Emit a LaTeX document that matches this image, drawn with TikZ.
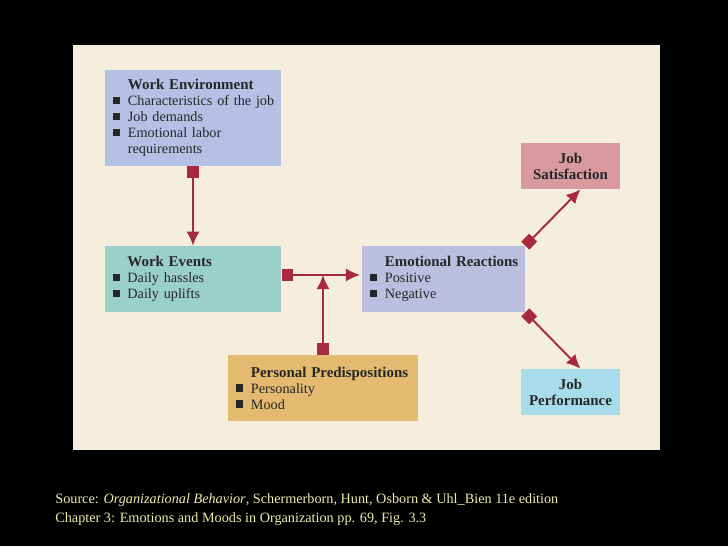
\documentclass[tikz,border=0pt]{standalone}
\usepackage{fontspec}
\setmainfont{Liberation Serif}
\usetikzlibrary{positioning,calc}
\usetikzlibrary{arrows.meta}
\definecolor{sfondo}{RGB}{245,238,220}
\definecolor{ambiente}{RGB}{180,192,228}
\definecolor{eventi}{RGB}{154,207,202}
\definecolor{reazioni}{RGB}{188,190,224}
\definecolor{predisposizioni}{RGB}{227,186,112}
\definecolor{soddisfazione}{RGB}{216,154,158}
\definecolor{prestazione}{RGB}{168,220,234}
\definecolor{rossoscuro}{RGB}{168,42,62}
\definecolor{didascalia}{RGB}{236,236,170}
\newcommand{\voce}[1]{\mbox{\makebox[8.5pt][l]{\rule[0.2ex]{4.2pt}{4.2pt}}#1}}
\newcommand{\titolo}[1]{\mbox{\hspace*{8.5pt}\fontsize{8.5}{9.1}\selectfont\bfseries #1}}
\newcommand{\rientro}[1]{\mbox{\hspace*{8.5pt}#1}}
\tikzstyle{fattore} = [rectangle, inner xsep=4.5pt, inner ysep=2pt, align=left, font=\fontsize{8.1}{9.1}\selectfont, text=black!85]
\tikzstyle{esito} = [rectangle, minimum width=1.98cm, minimum height=0.92cm, align=center, font=\bfseries\fontsize{8.5}{9.1}\selectfont, text=black!85]
\tikzstyle{freccia} = [line width=1.1pt, draw=rossoscuro, {Square[length=6.4pt,width=6.4pt]}-{Latex[length=8pt,width=7.5pt]}]
\tikzstyle{fonte} = [anchor=base west, inner sep=0pt, text=didascalia, font=\fontsize{8.1}{10.8}\selectfont]

\begin{document}
\begin{tikzpicture}[y=-1cm]
	\fill[black] (0,0) rectangle (14.56,10.92);
	\fill[sfondo] (1.46,0.9) rectangle (13.2,9.0);
	\node (amb) at (3.86,2.36) [fattore, fill=ambiente, text width=3.2cm, minimum height=1.92cm] {\titolo{Work Environment}\\ \voce{Characteristics of the job}\\ \voce{Job demands}\\ \voce{Emotional labor}\\ \rientro{requirements}};
	\node (eve) at (3.86,5.58) [fattore, fill=eventi, text width=3.22cm, minimum height=1.32cm] {\titolo{Work Events}\\ \voce{Daily hassles}\\ \voce{Daily uplifts}};
	\node (rea) at (8.87,5.58) [fattore, fill=reazioni, text width=2.94cm, minimum height=1.32cm] {\titolo{Emotional Reactions}\\ \voce{Positive}\\ \voce{Negative}};
	\node (pred) at (6.46,7.76) [fattore, fill=predisposizioni, text width=3.48cm, minimum height=1.32cm] {\titolo{Personal Predispositions}\\ \voce{Personality}\\ \voce{Mood}};
	\node (sodd) at (11.41,3.32) [esito, fill=soddisfazione] {Job\\ Satisfaction};
	\node (prest) at (11.41,7.84) [esito, fill=prestazione] {Job\\ Performance};
	\node (fonte1) at (1.1,10.06) [fonte] {Source: \textit{Organizational Behavior}, Schermerborn, Hunt, Osborn \& Uhl\_Bien 11e edition};
	\node (fonte2) at (1.1,10.44) [fonte] {Chapter 3: Emotions and Moods in Organization pp. 69, Fig. 3.3};

	\coordinate (da) at ([yshift=2.3pt]eve.east);
	\coordinate (a) at ([yshift=2.3pt,xshift=-1pt]rea.west);
	\coordinate (inc) at (pred.north |- da);

	\draw[freccia] (amb.south) -- (eve.north);
	\draw[freccia] (da) -- (a);
	\draw[freccia] (pred.north) -- (inc);
	\draw[freccia] (rea.north east) -- ([xshift=5.7pt]sodd.south);
	\draw[freccia] (rea.south east) -- ([xshift=5.7pt]prest.north);
\end{tikzpicture}
\end{document}
